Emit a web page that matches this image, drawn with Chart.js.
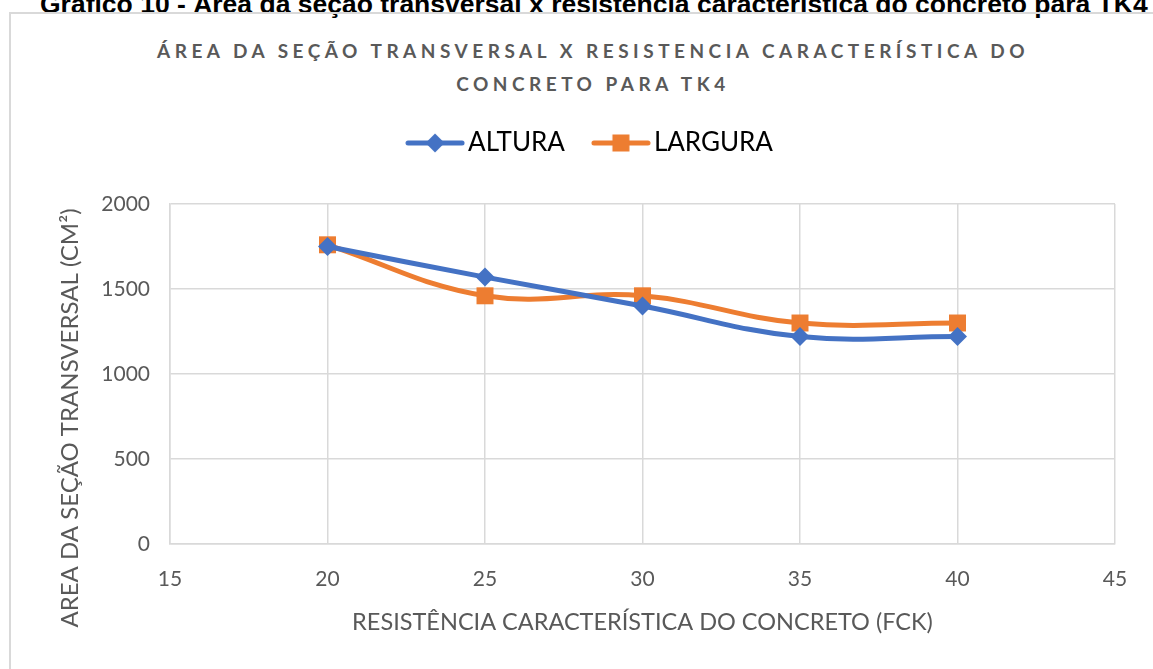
<!DOCTYPE html>
<html lang="pt-BR">
<head>
<meta charset="utf-8">
<title>Área da seção transversal x resistência característica do concreto para TK4</title>
<script src="https://cdn.jsdelivr.net/npm/chart.js@4.4.1/dist/chart.umd.min.js"></script>
<style>
  html, body { margin: 0; padding: 0; background: #fff; }
  body { width: 1153px; height: 669px; position: relative; overflow: hidden; }
  .caption { position: absolute; left: 40px; top: -9px; font: bold 26.5px/26px "Liberation Sans", Arial, sans-serif; color: #000; white-space: nowrap; }
  .frame { position: absolute; left: 9px; top: 12px; width: 1200px; height: 700px; border: 2px solid #d9d9d9; }
  .title { position: absolute; left: 0; top: 34px; width: 1186px; text-align: center; font: bold 19px/33px Lato, sans-serif; letter-spacing: 4.5px; color: #595959; }
  canvas { position: absolute; left: 0; top: 0; }
</style>
</head>
<body>
<div class="caption">Gráfico 10 - Área da seção transversal x resistência característica do concreto para TK4</div>
<div class="frame"></div>
<div class="title">ÁREA DA SEÇÃO TRANSVERSAL X RESISTENCIA CARACTERÍSTICA DO<br>CONCRETO PARA TK4</div>
<canvas id="areaChart" width="1153" height="669"></canvas>
<script>
const fck = [20, 25, 30, 35, 40];
const altura = [1750, 1570, 1400, 1220, 1220];
const largura = [1760, 1460, 1460, 1300, 1300];
const xTicks = [15, 20, 25, 30, 35, 40, 45];
const yTicks = [0, 500, 1000, 1500, 2000];

const xTitle = 'RESISTÊNCIA CARACTERÍSTICA DO CONCRETO (FCK)';
const yTitle = 'AREA DA SEÇÃO TRANSVERSAL (CM²)';

const blue = '#4472c4';
const orange = '#ed7d31';
const textColor = '#595959';
const gridColor = '#d9d9d9';

const areaChart = document.querySelector('#areaChart');

// small line + marker icons for the legend
function legendIcon(color, shape) {
    const c = document.createElement('canvas');
    c.width = 60;
    c.height = 24;
    const ctx = c.getContext('2d');
    ctx.strokeStyle = color;
    ctx.fillStyle = color;
    ctx.lineWidth = 5;
    ctx.lineCap = 'round';
    ctx.beginPath();
    ctx.moveTo(3, 12);
    ctx.lineTo(57, 12);
    ctx.stroke();
    ctx.beginPath();
    if (shape === 'diamond') {
        ctx.moveTo(30, 2.5);
        ctx.lineTo(39.5, 12);
        ctx.lineTo(30, 21.5);
        ctx.lineTo(20.5, 12);
        ctx.closePath();
        ctx.fill();
    } else {
        ctx.fillRect(21.5, 3.5, 17, 17);
    }
    return c;
}

const icons = [legendIcon(blue, 'diamond'), legendIcon(orange, 'square')];

// gives the legend extra room below it
const legendSpacing = {
    id: 'legendSpacing',
    beforeInit(chart) {
        const fit = chart.legend.fit;
        chart.legend.fit = function () {
            fit.call(this);
            this.height = 110;
        };
    }
};

// vertical axis title, sits a bit lower than the plot centre
const yAxisTitle = {
    id: 'yAxisTitle',
    afterDraw(chart) {
        const ctx = chart.ctx;
        const area = chart.chartArea;
        ctx.save();
        ctx.font = '24px Lato';
        ctx.fillStyle = textColor;
        ctx.textAlign = 'center';
        ctx.textBaseline = 'middle';
        ctx.translate(area.left - 100, (area.top + area.bottom) / 2 + 44);
        ctx.rotate(-Math.PI / 2);
        ctx.fillText(yTitle, 0, 0);
        ctx.restore();
    }
};

function toPoints(values) {
    return fck.map((x, i) => ({ x: x, y: values[i] }));
}

new Chart(areaChart, {
    type: 'line',
    data: {
        datasets: [{
            label: 'ALTURA',
            data: toPoints(altura),
            borderColor: blue,
            backgroundColor: blue,
            borderWidth: 5,
            tension: 0.4,
            pointStyle: 'rectRot',
            pointRadius: 9.5,
            pointBorderWidth: 0
        }, {
            label: 'LARGURA',
            data: toPoints(largura),
            borderColor: orange,
            backgroundColor: orange,
            borderWidth: 5,
            tension: 0.4,
            pointStyle: 'rect',
            pointRadius: 12,
            pointBorderWidth: 0
        }]
    },
    options: {
        responsive: false,
        animation: false,
        layout: {
            padding: { left: 73, right: 38, top: 94, bottom: 0 }
        },
        plugins: {
            legend: {
                labels: {
                    usePointStyle: true,
                    pointStyleWidth: 40,
                    padding: 36,
                    color: textColor,
                    font: { family: 'Lato', size: 26 },
                    generateLabels: chart => chart.data.datasets.map((ds, i) => ({
                        text: ds.label,
                        pointStyle: icons[i],
                        fillStyle: ds.borderColor,
                        strokeStyle: ds.borderColor,
                        lineWidth: 0,
                        datasetIndex: i,
                        hidden: false
                    }))
                }
            },
            tooltip: { enabled: false }
        },
        scales: {
            x: {
                type: 'linear',
                min: xTicks[0],
                max: xTicks[xTicks.length - 1],
                afterBuildTicks: scale => { scale.ticks = xTicks.map(v => ({ value: v })); },
                afterFit: scale => {
                    scale.height = 125;
                    scale.paddingLeft = 0;
                    scale.paddingRight = 0;
                },
                grid: { color: gridColor, lineWidth: 1.5, drawTicks: false },
                border: { color: gridColor, width: 1.5 },
                ticks: {
                    padding: 23,
                    color: textColor,
                    font: { family: 'Lato', size: 21 },
                    callback: v => String(v)
                },
                title: {
                    display: true,
                    text: xTitle,
                    color: textColor,
                    font: { family: 'Lato', size: 23.5 },
                    padding: { top: 0, bottom: 32 }
                }
            },
            y: {
                min: yTicks[0],
                max: yTicks[yTicks.length - 1],
                afterBuildTicks: scale => { scale.ticks = yTicks.map(v => ({ value: v })); },
                afterFit: scale => {
                    scale.width = 97;
                    scale.paddingTop = 0;
                    scale.paddingBottom = 0;
                },
                grid: { color: gridColor, lineWidth: 1.5, drawTicks: false },
                border: { color: gridColor, width: 1.5 },
                ticks: {
                    padding: 20,
                    color: textColor,
                    font: { family: 'Lato', size: 21 },
                    callback: v => String(v)
                }
            }
        }
    },
    plugins: [legendSpacing, yAxisTitle]
});
</script>
</body>
</html>
